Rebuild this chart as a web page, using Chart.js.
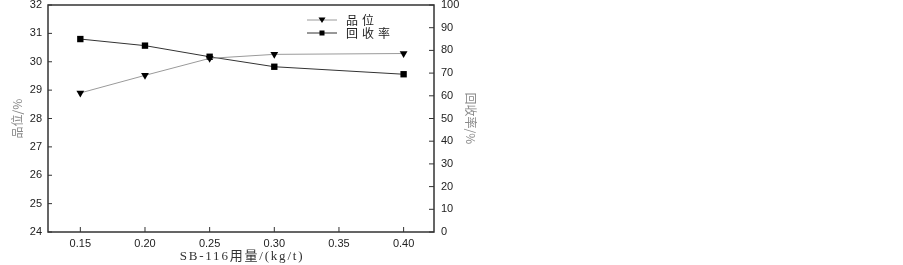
<!DOCTYPE html>
<html>
<head>
<meta charset="utf-8">
<script src="https://cdn.jsdelivr.net/npm/chart.js@4/dist/chart.umd.min.js"></script>
<style>
  html, body { margin: 0; padding: 0; background: #fff; }
  #wrap { width: 903px; height: 265px; position: relative; }
</style>
</head>
<body>
<div id="wrap"><canvas id="c"></canvas></div>
<script>
// SB-116 dosage (kg/t)
const doses = [0.15, 0.20, 0.25, 0.30, 0.40];
const xTicks = [0.15, 0.20, 0.25, 0.30, 0.35, 0.40];
// grade %, left axis
const grade = [28.9, 29.52, 30.12, 30.26, 30.29];
// recovery %, right axis
const recovery = [85.0, 82.1, 77.2, 72.8, 69.5];
const seriesNames = ['品位', '回收率'];
const xTitle = 'SB-116用量/(kg/t)';

const tickFont = { family: 'Arial, "Liberation Sans", sans-serif', size: 11 };

// frame, inward ticks, x title and the little legend
const framePlugin = {
  id: 'frame',
  afterDatasetsDraw(chart) {
    const { ctx, chartArea: a, scales } = chart;
    ctx.save();
    ctx.strokeStyle = '#333';
    ctx.lineWidth = 1;
    ctx.beginPath();
    scales.y.ticks.forEach(t => {
      const y = scales.y.getPixelForValue(t.value);
      ctx.moveTo(a.left, y); ctx.lineTo(a.left + 4, y);
    });
    scales.y1.ticks.forEach(t => {
      const y = scales.y1.getPixelForValue(t.value);
      ctx.moveTo(a.right, y); ctx.lineTo(a.right - 5, y);
    });
    scales.x.ticks.forEach(t => {
      const x = scales.x.getPixelForValue(t.value);
      ctx.moveTo(x, a.bottom); ctx.lineTo(x, a.bottom - 5);
    });
    ctx.stroke();
    ctx.lineWidth = 1.5;
    ctx.strokeRect(a.left, a.top, a.right - a.left, a.bottom - a.top);

    // x axis title, spaced out like the original
    ctx.fillStyle = '#333';
    ctx.font = '13px "Liberation Serif", "Noto Sans CJK SC", serif';
    ctx.letterSpacing = '1.8px';
    ctx.textAlign = 'center';
    ctx.textBaseline = 'middle';
    ctx.fillText(xTitle, (a.left + a.right) / 2 + 1, 257);

    // legend
    const lx = 307, ly = 20;
    ctx.textAlign = 'left';
    chart.data.datasets.forEach((ds, i) => {
      const y = ly + i * 13;
      ctx.strokeStyle = ds.borderColor;
      ctx.lineWidth = 1;
      ctx.beginPath();
      ctx.moveTo(lx, y); ctx.lineTo(lx + 30, y);
      ctx.stroke();
      ctx.fillStyle = '#000';
      ctx.beginPath();
      if (i === 0) {
        ctx.moveTo(lx + 11.5, y - 2.5); ctx.lineTo(lx + 18.5, y - 2.5); ctx.lineTo(lx + 15, y + 3);
        ctx.closePath(); ctx.fill();
      } else {
        ctx.fillRect(lx + 12.5, y - 2.5, 5, 5);
      }
      ctx.fillStyle = '#222';
      ctx.font = '12px "Noto Sans CJK SC", sans-serif';
      ctx.letterSpacing = '4px';
      ctx.fillText(ds.label, lx + 39, y);
    });
    ctx.letterSpacing = '0px';
    ctx.restore();
  }
};

const noPadV = s => { s.paddingTop = 0; s.paddingBottom = 0; };

new Chart(document.getElementById('c'), {
  type: 'line',
  data: {
    datasets: [{
      label: seriesNames[0],
      data: doses.map((d, i) => ({ x: d, y: grade[i] })),
      yAxisID: 'y',
      borderColor: '#9a9a9a',
      borderWidth: 1,
      pointStyle: 'triangle',
      rotation: 180,
      pointRadius: 4.5,
      pointBackgroundColor: '#000',
      pointBorderColor: '#000',
      pointBorderWidth: 0,
      tension: 0
    }, {
      label: seriesNames[1],
      data: doses.map((d, i) => ({ x: d, y: recovery[i] })),
      yAxisID: 'y1',
      borderColor: '#333',
      borderWidth: 1,
      pointStyle: 'rect',
      pointRadius: 4.5,
      pointBackgroundColor: '#000',
      pointBorderColor: '#000',
      pointBorderWidth: 0,
      tension: 0
    }]
  },
  options: {
    responsive: true,
    maintainAspectRatio: false,
    animation: false,
    layout: { padding: { top: 5, right: 409, left: 0, bottom: 0 } },
    plugins: { legend: { display: false }, tooltip: { enabled: false } },
    scales: {
      x: {
        type: 'linear',
        min: 0.125,
        max: 0.4235,
        afterBuildTicks: s => { s.ticks = xTicks.map(v => ({ value: v })); },
        afterFit: s => { s.height = 33; s.paddingLeft = 0; s.paddingRight = 0; },
        grid: { display: false, drawTicks: false },
        border: { display: false },
        ticks: {
          font: tickFont, color: '#222', padding: 5, maxRotation: 0,
          callback: v => v.toFixed(2)
        }
      },
      y: {
        position: 'left',
        min: 24, max: 32,
        afterFit: s => { s.width = 48; noPadV(s); },
        grid: { display: false, drawTicks: false },
        border: { display: false },
        ticks: { stepSize: 1, font: tickFont, color: '#222', padding: 6 },
        title: {
          display: true, text: '品位/%', color: '#888',
          font: { family: '"Noto Sans CJK SC", sans-serif', size: 12 },
          padding: { top: 10, bottom: 0 }
        }
      },
      y1: {
        position: 'right',
        min: 0, max: 100,
        afterFit: s => { s.width = 60; noPadV(s); },
        grid: { display: false, drawTicks: false },
        border: { display: false },
        ticks: { stepSize: 10, font: tickFont, color: '#222', padding: 7 },
        title: {
          display: true, text: '回收率/%', color: '#888',
          font: { family: '"Noto Sans CJK SC", sans-serif', size: 12 },
          padding: { top: 16, bottom: 0 }
        }
      }
    }
  },
  plugins: [framePlugin]
});
</script>
</body>
</html>
